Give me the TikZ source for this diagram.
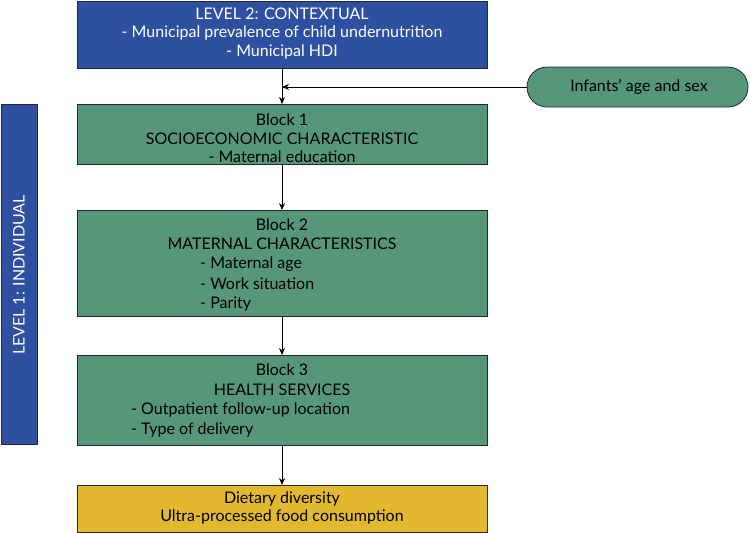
\documentclass[tikz,border=0pt]{standalone}
\usepackage{fontspec}
\setmainfont{Lato}
\usetikzlibrary{arrows.meta}
\definecolor{cblue}{RGB}{46,80,160}
\definecolor{cgreen}{RGB}{86,150,121}
\definecolor{cyellow}{RGB}{226,185,46}
\definecolor{cborder}{RGB}{40,40,40}
\begin{document}
\begin{tikzpicture}[x=1pt,y=-1pt,
  box/.style={draw=cborder,line width=0.8pt,rectangle,inner sep=0pt},
  lbl/.style={font=\fontsize{16}{18}\selectfont,inner sep=0pt,anchor=center},
  llbl/.style={font=\fontsize{16}{18}\selectfont,inner sep=0pt,anchor=west},
  wlbl/.style={lbl,text=white},
  arr/.style={-{Stealth[length=7pt,width=6pt]},line width=0.7pt,black}]
\useasboundingbox (0,0) rectangle (750,533);
% boxes
\filldraw[box,fill=cblue] (77,1) rectangle (487,68);
\coordinate (topS) at (282,68);
\filldraw[box,fill=cgreen] (77,104) rectangle (487,164);
\coordinate (b1N) at (282,104); \coordinate (b1S) at (282,164);
\filldraw[box,fill=cgreen] (77,210) rectangle (487,316);
\coordinate (b2N) at (282,210); \coordinate (b2S) at (282,316);
\filldraw[box,fill=cgreen] (77,355) rectangle (487,445);
\coordinate (b3N) at (282,355); \coordinate (b3S) at (282,445);
\filldraw[box,fill=cyellow] (77,485) rectangle (487,532);
\coordinate (oN) at (282,485);
\filldraw[box,fill=cblue] (1,104) rectangle (37,444);
\filldraw[box,fill=cgreen,rounded corners=20pt] (527,67) rectangle (748,107);
\coordinate (pillW) at (527,87);
\coordinate (joint) at (282,87);
% texts
\node[wlbl] (t1) at (282,14) {LEVEL 2: CONTEXTUAL};
\node[wlbl] (t2) at (282,33) {- Municipal prevalence of child undernutrition};
\node[wlbl] (t3) at (282,52) {- Municipal HDI};
\node[lbl] (p1) at (639,87) {Infants’ age and sex};
\node[wlbl,rotate=90] (lv1) at (19,275) {LEVEL 1: INDIVIDUAL};
\node[lbl] (a1) at (282,120) {Block 1};
\node[lbl] (a2) at (282,139) {SOCIOECONOMIC CHARACTERISTIC};
\node[lbl] (a3) at (282,157) {- Maternal education};
\node[lbl] (c1) at (282,225) {Block 2};
\node[lbl] (c2) at (282,244) {MATERNAL CHARACTERISTICS};
\node[llbl] (c3) at (200,264) {- Maternal age};
\node[llbl] (c4) at (200,284) {- Work situation};
\node[llbl] (c5) at (200,304) {- Parity};
\node[lbl] (d1) at (282,370) {Block 3};
\node[lbl] (d2) at (282,390) {HEALTH SERVICES};
\node[llbl] (d3) at (131,410) {- Outpatient follow-up location};
\node[llbl] (d4) at (131,430) {- Type of delivery};
\node[lbl] (e1) at (282,499) {Dietary diversity};
\node[lbl] (e2) at (282,517) {Ultra-processed food consumption};
% arrows
\draw[arr] (topS) -- (b1N);
\draw[arr] (pillW) -- (joint);
\draw[arr] (b1S) -- (b2N);
\draw[arr] (b2S) -- (b3N);
\draw[arr] (b3S) -- (oN);
\end{tikzpicture}
\end{document}
